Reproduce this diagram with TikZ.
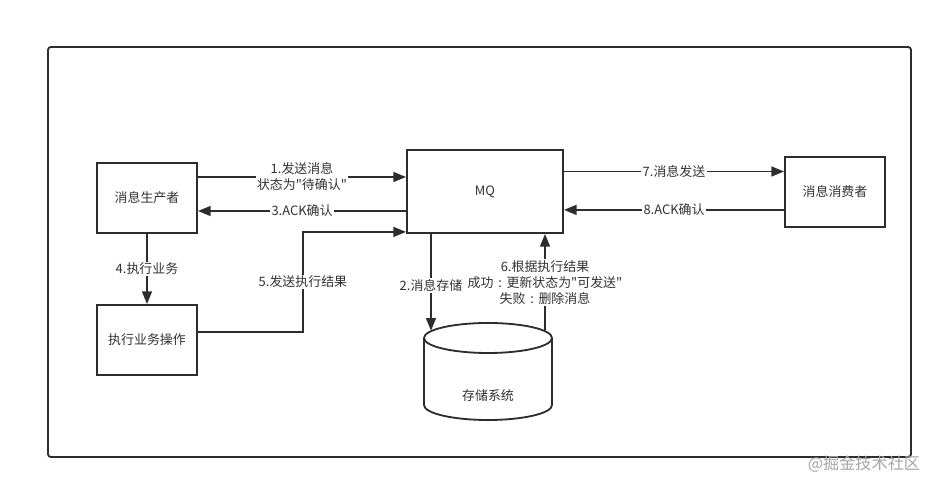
\documentclass[tikz,border=0pt]{standalone}
\usepackage{fontspec}
\newfontfamily\cjkfont{Noto Sans CJK SC}
\usetikzlibrary{arrows.meta,positioning}
\definecolor{linegray}{RGB}{45,45,45}
\definecolor{textgray}{RGB}{50,50,50}
\definecolor{markgray}{RGB}{165,165,165}
\newcommand{\wcolon}{\makebox[1em]{:}}
\tikzset{
  box/.style={rectangle,draw=linegray,line width=1.3pt,minimum width=2.5cm,minimum height=1.75cm,text=textgray,font=\cjkfont\fontsize{9.2}{11.4}\selectfont},
  cyl/.style={draw=linegray,line width=1.3pt},
  lbl/.style={fill=white,inner sep=1pt,text=textgray,align=center,font=\cjkfont\fontsize{9.2}{11.4}\selectfont},
  arr/.style={-{Triangle[length=9pt,width=7pt]},line width=1.3pt,draw=linegray},
  frame/.style={draw=linegray,line width=1.3pt,rounded corners=2pt}
}

\begin{document}
\begin{tikzpicture}[x=0.025cm,y=-0.025cm]

  \useasboundingbox (0,0) rectangle (943,490);
  \draw[frame] (48,47) rectangle (911,457);

  \node[box] (producer) at (147,198) {消息生产者};
  \node[box] (exec) at (147,340) {执行业务操作};
  \node[box,minimum width=3.9cm,minimum height=2.075cm] (mq) at (485,191.5) {MQ};
  \node[box] (consumer) at (835,192) {消息消费者};

  % storage cylinder
  \node[minimum width=3.2cm,minimum height=2.425cm,inner sep=0pt] (storage) at (488,371.5) {};
  \draw[cyl] (424,338) -- (424,405) arc[start angle=180,end angle=0,x radius=64,y radius=15] -- (552,338);
  \draw[cyl] (488,338) ellipse [x radius=64,y radius=15];
  \node[text=textgray,font=\cjkfont\fontsize{9.2}{11.4}\selectfont] (storagetext) at (488,396) {存储系统};

  % producer <-> MQ
  \draw[arr] ([yshift=0.525cm]producer.east) -- node[lbl] {1.发送消息\\状态为"待确认"} ([yshift=0.525cm]producer.east -| mq.west);
  \draw[arr] ([yshift=-0.325cm]producer.east -| mq.west) -- node[lbl] {3.ACK确认} ([yshift=-0.325cm]producer.east);

  % business operation
  \draw[arr] (producer.south) -- node[lbl] {4.执行业务} (exec.north);
  \draw[arr] ([yshift=0.2cm]exec.east) -- ++(105,0) |- node[lbl,pos=0.25] {5.发送执行结果} ([yshift=0.05cm]mq.south west);

  % MQ <-> storage
  \draw[arr] ([xshift=-1.35cm]mq.south) -- node[lbl,pos=0.53] {2.消息存储} ([xshift=-1.425cm,yshift=-0.2cm]storage.north);
  \draw[arr] ([xshift=1.425cm,yshift=-0.2cm]storage.north) -- node[lbl,pos=0.5] {6.根据执行结果\\成功\wcolon 更新状态为"可发送"\\失败\wcolon 删除消息} ([xshift=1.5cm]mq.south);

  % MQ <-> consumer
  \draw[arr] ([yshift=0.5cm]mq.east) -- node[lbl] {7.消息发送} ([yshift=0.5cm]mq.east -| consumer.west);
  \draw[arr] ([yshift=-0.46cm]mq.east -| consumer.west) -- node[lbl] {8.ACK确认} ([yshift=-0.46cm]mq.east);

  \node[text=markgray,font=\cjkfont\fontsize{11.5}{13}\selectfont] (mark) at (864,464) {@掘金技术社区};

\end{tikzpicture}
\end{document}
